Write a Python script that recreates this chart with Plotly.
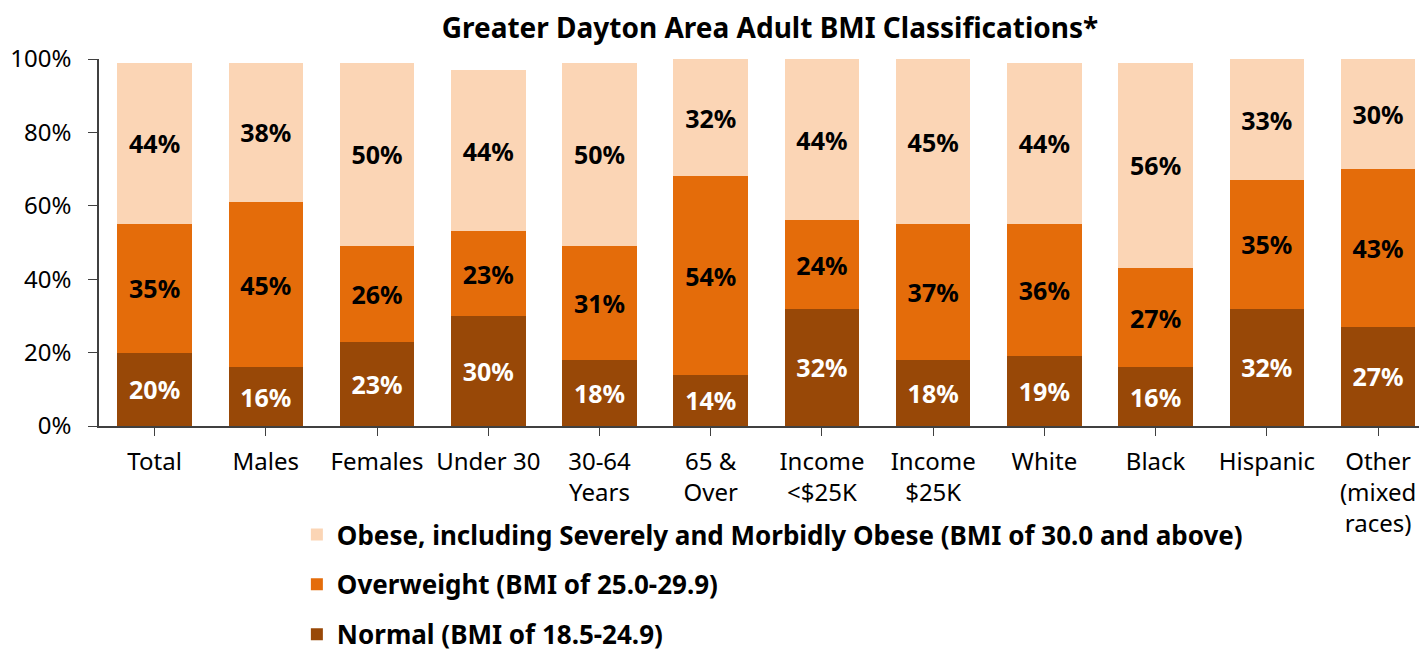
import plotly.graph_objects as go

categories = ["Total", "Males", "Females", "Under 30", "30-64<br>Years", "65 &amp;<br>Over",
              "Income<br>&lt;$25K", "Income<br>$25K", "White", "Black", "Hispanic",
              "Other<br>(mixed<br>races)"]
normal = [20, 16, 23, 30, 18, 14, 32, 18, 19, 16, 32, 27]
overweight = [35, 45, 26, 23, 31, 54, 24, 37, 36, 27, 35, 43]
obese = [44, 38, 50, 44, 50, 32, 44, 45, 44, 56, 33, 30]

series = [
    ("Normal (BMI of 18.5-24.9)", normal, "#984807", "white", 3),
    ("Overweight (BMI of 25.0-29.9)", overweight, "#E46C0A", "black", 2),
    ("Obese, including Severely and Morbidly Obese (BMI of 30.0 and above)", obese, "#FBD5B5", "black", 1),
]

FONT = "Noto Sans"
fig = go.Figure()
for i, (name, vals, color, tcolor, rank) in enumerate(series):
    fig.add_trace(go.Bar(
        x=list(range(len(categories))), y=vals, name=name,
        marker=dict(color=color, line=dict(width=0)),
        text=[f"{v}%" for v in vals], textposition="inside", insidetextanchor="middle",
        textangle=0, constraintext="none",
        textfont=dict(family=FONT, size=25, color=tcolor, weight="bold"),
        legendgroup=f"g{i}", legendrank=rank, hoverinfo="skip",
    ))

# page body has an 8px margin, so the figure is 8px smaller and shifted
fig.update_layout(
    barmode="stack", bargap=0.33,
    width=1419, height=644,
    margin=dict(l=91, r=0, t=51, b=226, autoexpand=False),
    paper_bgcolor="white", plot_bgcolor="white",
    font=dict(family=FONT, size=24, color="black"),
    title=dict(text="<b>Greater Dayton Area Adult BMI Classifications*</b>",
               x=0.537, xanchor="center", y=0.969, yanchor="middle",
               font=dict(family=FONT, size=28, color="black")),
    showlegend=True,
    legend=dict(orientation="v", x=0.149, xanchor="left", y=-0.232, yanchor="top",
                traceorder="grouped", tracegroupgap=13,
                font=dict(family=FONT, size=26, color="black", weight="bold"),
                itemwidth=30, bgcolor="rgba(0,0,0,0)"),
    uniformtext=dict(minsize=10, mode="show"),
)
fig.update_xaxes(
    tickmode="array", tickvals=list(range(len(categories))), ticktext=categories,
    range=[-0.5, len(categories) - 0.56],
    showline=True, linecolor="#404040", linewidth=1.5,
    ticks="outside", tickson="boundaries", ticklen=8, tickcolor="#404040",
    ticklabelstandoff=5,
    showgrid=False, tickfont=dict(family=FONT, size=24, color="black"),
    automargin=False,
)
fig.update_yaxes(
    range=[0, 100], tickvals=[0, 20, 40, 60, 80, 100],
    ticktext=["0%", "20%", "40%", "60%", "80%", "100%"],
    showline=True, linecolor="#404040", linewidth=1.5,
    ticks="outside", ticklen=9, tickcolor="#404040",
    ticklabelstandoff=12,
    showgrid=False, zeroline=False, tickfont=dict(family=FONT, size=24, color="black"),
    automargin=False,
)
fig.write_html("out.html")
